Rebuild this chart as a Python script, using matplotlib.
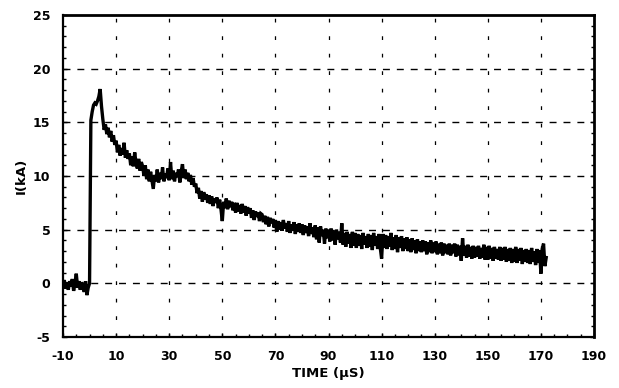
import numpy as np
import matplotlib
matplotlib.use("Agg")
import matplotlib.pyplot as plt
from matplotlib.ticker import MultipleLocator

# sample times (µs), one sample every 0.5 µs
time_us = np.arange(-10, 172.25, 0.5)

# current (kA) (rows of 5 µs)
current_ka = [
    -0.1, 0.3, -0.5, 0.1, -0.6, 0.2, -0.3, 0.4, -0.7, 0.0,
    0.9, -0.4, 0.2, -0.6, 0.1, -0.3, -0.8, 0.2, -1.1, -0.4,
    0.0, 15.2, 16.0, 16.6, 16.8, 16.7, 17.0, 17.4, 18.1, 16.5,
    15.3, 14.3, 14.8, 13.9, 14.5, 13.6, 14.2, 13.2, 13.8, 12.9,
    13.3, 12.2, 12.9, 11.9, 12.6, 12.0, 13.1, 11.7, 12.4, 11.6,
    12.1, 11.0, 11.8, 10.9, 12.2, 11.2, 10.7, 11.6, 10.5, 11.3,
    10.9, 10.0, 11.0, 9.7, 10.6, 9.5, 10.4, 9.6, 8.8, 10.1,
    9.5, 10.6, 9.4, 10.3, 9.7, 10.8, 9.5, 10.2, 9.8, 10.7,
    9.6, 11.3, 9.7, 10.5, 9.5, 10.3, 9.9, 10.6, 9.4, 10.4,
    11.1, 9.8, 10.6, 9.7, 10.3, 9.5, 10.1, 9.2, 9.8, 9.0,
    9.3, 8.4, 8.9, 7.9, 8.6, 7.6, 8.5, 7.8, 8.3, 7.5,
    8.2, 7.4, 8.1, 7.2, 7.9, 7.5, 8.0, 7.0, 7.8, 6.9,
    5.8, 7.6, 7.0, 7.9, 6.9, 7.7, 7.1, 7.6, 6.8, 7.5,
    6.6, 7.5, 6.7, 7.3, 6.5, 7.4, 6.6, 7.2, 6.3, 7.1,
    6.5, 7.0, 6.1, 6.8, 5.9, 6.7, 6.2, 6.6, 5.8, 6.5,
    6.4, 5.7, 6.3, 5.5, 6.2, 5.3, 6.1, 5.6, 6.0, 5.2,
    5.9, 4.8, 5.8, 5.0, 5.7, 4.9, 5.9, 5.1, 5.6, 4.8,
    5.8, 4.7, 5.5, 4.9, 5.7, 4.6, 5.5, 4.8, 5.6, 4.7,
    5.5, 4.5, 5.4, 4.7, 5.3, 4.4, 5.6, 4.6, 5.2, 4.3,
    5.4, 4.1, 5.2, 3.8, 5.3, 4.4, 5.0, 3.7, 5.1, 4.2,
    5.0, 3.9, 5.1, 4.0, 4.9, 3.6, 5.0, 4.1, 4.8, 3.8,
    5.6, 3.6, 4.7, 3.4, 4.8, 3.7, 4.6, 3.3, 4.8, 3.5,
    4.7, 3.3, 4.6, 3.5, 4.5, 3.2, 4.7, 3.6, 4.4, 3.3,
    4.6, 3.4, 4.5, 3.1, 4.7, 3.5, 4.4, 3.2, 4.6, 3.3,
    2.3, 4.6, 3.3, 4.5, 3.2, 4.4, 3.4, 4.7, 3.1, 4.3,
    3.2, 4.5, 2.9, 4.3, 3.3, 4.4, 3.0, 4.2, 3.2, 4.3,
    3.0, 4.1, 2.9, 4.2, 3.1, 4.0, 2.8, 4.1, 3.0, 3.9,
    2.9, 4.0, 3.0, 3.9, 2.7, 3.8, 2.9, 4.0, 2.8, 3.8,
    2.9, 3.9, 2.7, 3.7, 2.8, 3.8, 2.6, 3.7, 2.8, 3.6,
    2.7, 3.7, 2.6, 3.6, 2.8, 3.7, 2.5, 3.6, 2.6, 3.5,
    2.1, 4.2, 2.6, 3.5, 2.4, 3.6, 2.5, 3.4, 2.3, 3.5,
    2.4, 3.4, 2.5, 3.5, 2.3, 3.3, 2.4, 3.6, 2.2, 3.4,
    2.2, 3.5, 2.3, 3.3, 2.1, 3.4, 2.3, 3.2, 2.2, 3.4,
    2.1, 3.3, 2.2, 3.4, 2.0, 3.2, 2.1, 3.3, 1.9, 3.2,
    2.0, 3.4, 1.9, 3.2, 2.1, 3.3, 1.8, 3.1, 2.0, 3.2,
    1.9, 3.1, 1.8, 3.3, 2.0, 3.0, 1.7, 3.2, 1.9, 3.1,
    0.9, 3.2, 3.7, 1.6, 2.4,
]

x_ticks = [-10, 10, 30, 50, 70, 90, 110, 130, 150, 170, 190]
x_tick_labels = ["-10", "10", "30", "50", "70", "90", "110", "130", "150", "170", "190"]
y_ticks = [-5, 0, 5, 10, 15, 20, 25]
y_tick_labels = ["-5", "0", "5", "10", "15", "20", "25"]

plt.rcParams['font.family'] = ['DejaVu Sans']

fig = plt.figure(figsize=(6.19, 3.88), dpi=100)
ax = fig.add_axes([63 / 619, 51 / 388, 531 / 619, 322 / 388])

ax.plot(time_us, current_ka, color='black', lw=2.4, solid_joinstyle='miter')

ax.set_xlim(-10, 190)
ax.set_ylim(-5, 25)
ax.set_xticks(x_ticks)
ax.set_xticklabels(x_tick_labels, fontsize=9, fontweight='bold')
ax.set_yticks(y_ticks)
ax.set_yticklabels(y_tick_labels, fontsize=9, fontweight='bold')
ax.yaxis.set_minor_locator(MultipleLocator(1))
ax.xaxis.set_minor_locator(MultipleLocator(5))
ax.tick_params(axis='both', which='major', direction='in', length=3, width=1,
               right=True, pad=9)
ax.tick_params(axis='both', which='minor', direction='in', length=2, width=1,
               right=True)

# grid: horizontal dashed, vertical sparse dashes
for yv in [0, 5, 10, 15, 20]:
    ax.axhline(yv, color='black', lw=1.0, dashes=(5, 5), zorder=0.5)
for xv in [10, 30, 50, 70, 90, 110, 130, 150, 170]:
    ax.axvline(xv, color='black', lw=0.9, dashes=(3, 11), zorder=0.5)

for s in ax.spines.values():
    s.set_linewidth(1.6)
ax.spines['top'].set_linewidth(2.0)
ax.spines['right'].set_linewidth(2.0)

ax.set_xlabel("TIME (µS)", fontsize=9.5, fontweight='bold', labelpad=3)
ax.set_ylabel("I(kA)", fontsize=9.5, fontweight='bold', labelpad=4)

fig.savefig("out.png", dpi=100)
